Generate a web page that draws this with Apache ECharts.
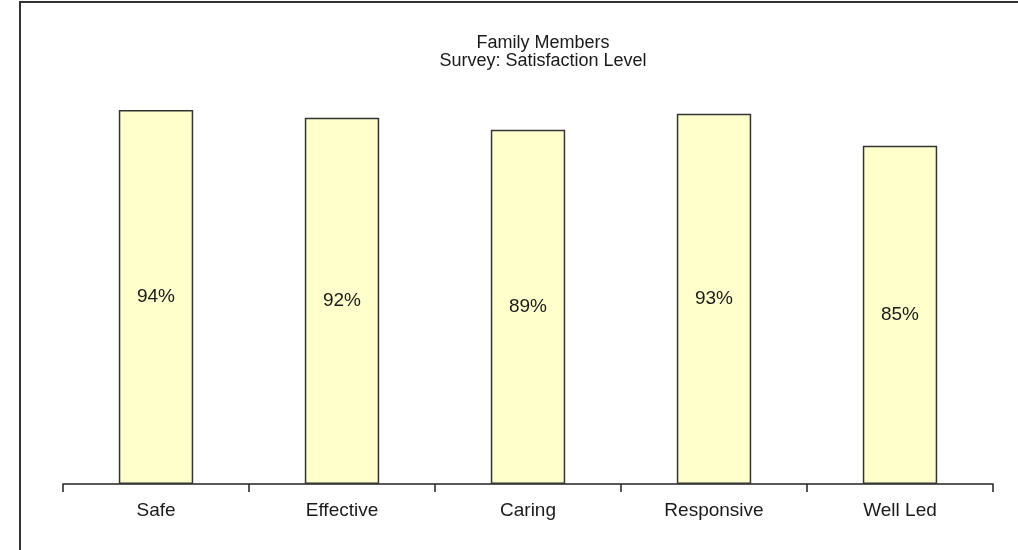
<!DOCTYPE html>
<html>
<head>
<meta charset="utf-8">
<script src="https://cdn.jsdelivr.net/npm/echarts@6/dist/echarts.min.js"></script>
<style>
  html, body { margin: 0; padding: 0; background: #fff; }
  #chart { width: 1018px; height: 550px; }
</style>
</head>
<body>
<div id="chart"></div>
<script>
  // survey results
  const categories = ['Safe', 'Effective', 'Caring', 'Responsive', 'Well Led'];
  const satisfaction = [94, 92, 89, 93, 85];
  const titleLines = ['Family Members', 'Survey: Satisfaction Level'];

  const chart = echarts.init(document.getElementById('chart'));

  chart.setOption({
    backgroundColor: '#ffffff',
    animation: false,
    title: {
      text: titleLines.join('\n'),
      left: 538,
      textAlign: 'center',
      top: 29,
      textStyle: {
        fontFamily: 'Liberation Sans, Arial, sans-serif',
        fontSize: 18,
        fontWeight: 'normal',
        color: '#1a1a1a',
        lineHeight: 18,
      },
    },
    // frame round the picture
    graphic: [{
      type: 'rect',
      shape: {x: 20, y: 2, width: 1100, height: 600},
      style: {fill: 'none', stroke: '#333', lineWidth: 2},
      silent: true,
    }],
    grid: {
      left: 63,
      right: 25,
      top: 86,
      bottom: 66,
    },
    xAxis: {
      type: 'category',
      data: categories,
      axisLine: {lineStyle: {color: '#222', width: 1.5}},
      axisTick: {
        show: true,
        interval: 0,
        length: 8,
        lineStyle: {color: '#222', width: 1.5},
      },
      axisLabel: {
        margin: 17,
        fontFamily: 'Liberation Sans, Arial, sans-serif',
        fontSize: 19,
        color: '#1a1a1a',
      },
    },
    yAxis: {
      type: 'value',
      min: 0,
      max: 100,
      show: false,
      splitLine: {show: false},
    },
    series: [{
      type: 'bar',
      data: satisfaction,
      barWidth: '40%',
      itemStyle: {
        color: '#ffffcc',
        borderColor: '#333',
        borderWidth: 1.5,
      },
      label: {
        show: true,
        position: 'inside',
        formatter: '{c}%',
        fontFamily: 'Liberation Sans, Arial, sans-serif',
        fontSize: 19,
        color: '#1a1a1a',
      },
    }],
  });
</script>
</body>
</html>
